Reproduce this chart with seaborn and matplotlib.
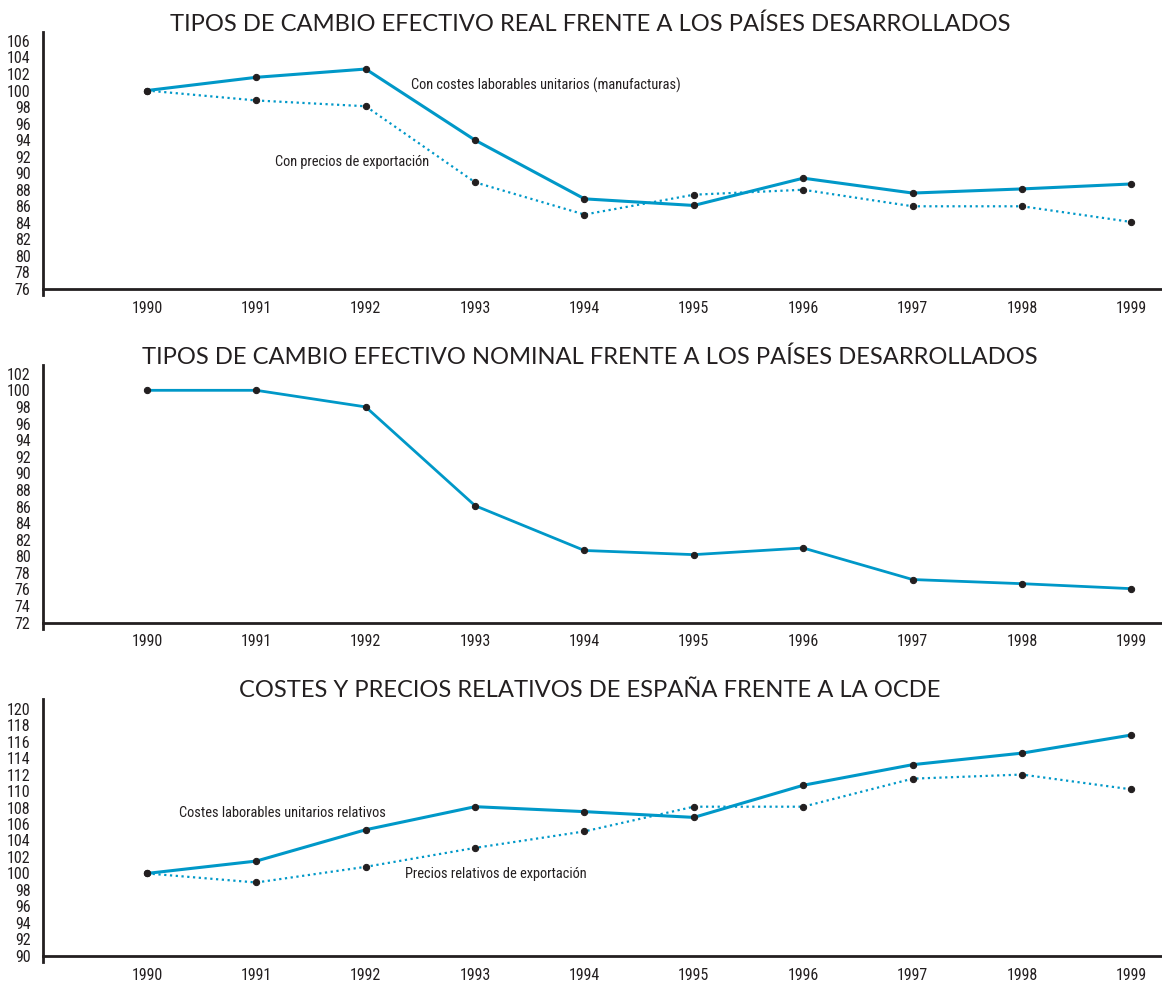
import matplotlib
matplotlib.use("Agg")
import pandas as pd
import matplotlib.pyplot as plt
import seaborn as sns

# =========================
# DATA
# =========================

years = list(range(1990, 2000))

real_clu = [100, 101.6, 102.6, 94.0, 86.9, 86.1, 89.4, 87.6, 88.1, 88.7]
real_exp = [100, 98.8, 98.1, 88.9, 85.0, 87.4, 88.0, 86.0, 86.0, 84.1]

nominal = [100, 100, 98.0, 86.1, 80.7, 80.2, 81.0, 77.2, 76.7, 76.1]

rel_clu = [100, 101.5, 105.3, 108.1, 107.5, 106.8, 110.7, 113.2, 114.6, 116.8]
rel_exp = [100, 98.9, 100.8, 103.1, 105.1, 108.1, 108.1, 111.5, 112.0, 110.2]

titles = [
    "TIPOS DE CAMBIO EFECTIVO REAL FRENTE A LOS PAÍSES DESARROLLADOS",
    "TIPOS DE CAMBIO EFECTIVO NOMINAL FRENTE A LOS PAÍSES DESARROLLADOS",
    "COSTES Y PRECIOS RELATIVOS DE ESPAÑA FRENTE A LA OCDE",
]

yticks_1 = list(range(76, 107, 2))
yticks_2 = list(range(72, 103, 2))
yticks_3 = list(range(90, 121, 2))

# =========================
# STYLE
# =========================

sns.set_style("white")
narrow = ["Roboto Condensed", "DejaVu Sans"]
plt.rcParams["font.family"] = narrow
plt.rcParams["font.stretch"] = "condensed"

BLUE = "#0098c8"
DARK = "#231f20"

fig = plt.figure(figsize=(11.62, 9.81), dpi=100)
W, H = 1162.0, 981.0


def make_axes(top_px, bottom_px):
    return fig.add_axes([43 / W, 1 - bottom_px / H, (W - 43) / W, (bottom_px - top_px) / H])


def style_axes(ax, base, ylim, yticks):
    ax.set_xlim(1989.05, 1999.28)
    ax.set_ylim(*ylim)
    ax.spines["top"].set_visible(False)
    ax.spines["right"].set_visible(False)
    ax.spines["bottom"].set_position(("data", base))
    for s in ["left", "bottom"]:
        ax.spines[s].set_color(DARK)
        ax.spines[s].set_linewidth(2.0)
    ax.set_xticks(years)
    ax.set_xticklabels([str(y) for y in years])
    ax.set_yticks(yticks)
    ax.tick_params(axis="x", direction="in", length=4, width=1, color=DARK,
                   pad=8.5, labelsize=11.5, labelcolor=DARK)
    ax.tick_params(axis="y", length=0, pad=9, labelsize=11.5, labelcolor=DARK)
    ax.set_xlabel("")
    ax.set_ylabel("")
    ax.grid(False)


def draw(ax, values, dotted=False, lw=2.2):
    df = pd.DataFrame({"year": years, "value": values})
    if dotted:
        ls = (0, (1, 1.6))
        width = 1.6
    else:
        ls = "-"
        width = lw
    sns.lineplot(data=df, x="year", y="value", ax=ax, color=BLUE,
                 linewidth=width, linestyle=ls, marker="o", markersize=4.5,
                 markerfacecolor=DARK, markeredgecolor=DARK)


# =========================
# PANEL 1
# =========================

ax1 = make_axes(32, 295)
draw(ax1, real_exp, dotted=True)
draw(ax1, real_clu)
style_axes(ax1, 76, (75.27, 107.08), yticks_1)
ax1.text(1992.41, 100.6, "Con costes laborables unitarios (manufacturas)",
         fontsize=10.4, color=DARK, va="center", ha="left")
ax1.text(1991.17, 91.3, "Con precios de exportación",
         fontsize=10.4, color=DARK, va="center", ha="left")

# =========================
# PANEL 2
# =========================

ax2 = make_axes(365, 629)
draw(ax2, nominal, lw=2.0)
style_axes(ax2, 72, (71.24, 103.05), yticks_2)

# =========================
# PANEL 3
# =========================

ax3 = make_axes(699, 962)
draw(ax3, rel_exp, dotted=True)
draw(ax3, rel_clu)
style_axes(ax3, 90, (89.25, 121.17), yticks_3)
ax3.text(1990.29, 107.3, "Costes laborables unitarios relativos",
         fontsize=10.4, color=DARK, va="center", ha="left")
ax3.text(1992.36, 99.9, "Precios relativos de exportación",
         fontsize=10.4, color=DARK, va="center", ha="left")

# =========================
# TITLES
# =========================

for title, ypx in zip(titles, [24, 357, 690.5]):
    fig.text(590 / W, 1 - ypx / H, title, ha="center", va="center",
             fontsize=17.1, color=DARK, family=["Lato", "DejaVu Sans"],
             fontstretch="normal")

fig.savefig("out.png", dpi=100)
